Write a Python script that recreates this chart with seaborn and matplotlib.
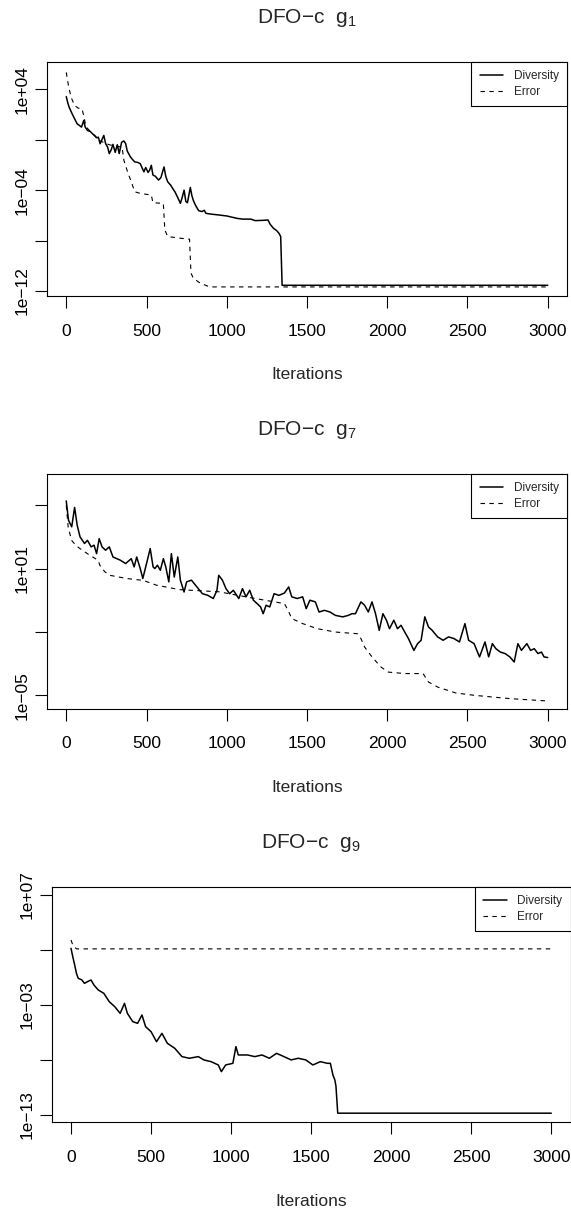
import numpy as np
import pandas as pd
import matplotlib
matplotlib.use("Agg")
import matplotlib.pyplot as plt
import seaborn as sns
from matplotlib.ticker import FixedLocator, FixedFormatter, NullLocator
from matplotlib.lines import Line2D

# ---------------- data (log10 of the plotted values) ----------------
x_ticks = [0, 500, 1000, 1500, 2000, 2500, 3000]
x_tick_labels = ["0", "500", "1000", "1500", "2000", "2500", "3000"]
series_names = ["Diversity", "Error"]

# g1
g1_div_it = [0, 10, 18, 35, 52, 68, 80, 95, 109, 118, 132, 150, 165, 177, 190, 200, 211, 222, 234, 245,
             258, 268, 280, 291, 305, 318, 330, 345, 359, 370, 380, 400, 415, 427, 445, 461, 475, 484, 495, 510,
             520, 530, 540, 555, 575, 590, 609, 620, 632, 650, 665, 677, 695, 711, 722, 734, 745, 755, 773, 782,
             791, 805, 825, 845, 860, 870, 900, 950, 1000, 1064, 1100, 1150, 1177, 1220, 1257, 1270, 1291, 1310, 1325, 1336,
             1345, 3000]
g1_div_log = [3.42, 2.9, 2.58, 2.1, 1.66, 1.26, 1.15, 1.0, 1.53, 1.0, 0.74, 0.65, 0.45, 0.34, 0.15, 0.2, -0.32, 0.0, 0.34, -0.3,
              -0.6, -1.1, -0.8, -0.37, -1.0, -0.4, -1.1, -0.2, -0.1, -0.3, -0.9, -1.37, -1.6, -1.76, -1.8, -1.9, -2.3, -2.55, -2.2, -2.6,
              -2.4, -2.03, -2.8, -2.9, -3.2, -3.0, -2.16, -2.9, -3.34, -3.6, -3.9, -4.13, -4.6, -5.05, -4.6, -4.0, -4.9, -5.0, -3.79, -4.4,
              -4.79, -5.2, -5.63, -5.7, -5.6, -5.84, -5.9, -5.97, -6.05, -6.24, -6.3, -6.3, -6.42, -6.4, -6.37, -6.7, -7.03, -7.2, -7.42, -7.68,
              -11.55, -11.55]
g1_err_it = [0, 15, 30, 52, 75, 98, 105, 109, 120, 132, 177, 211, 268, 330, 348, 359, 382, 405, 427, 461,
             530, 540, 605, 614, 632, 700, 768, 777, 791, 825, 859, 893, 3000]
g1_err_log = [5.34, 4.2, 3.37, 2.71, 2.5, 2.45, 2.1, 1.92, 1.2, 0.9, 0.3, -0.1, -0.4, -0.55, -0.6, -1.63, -2.55, -3.34, -4.13, -4.26,
              -4.39, -5.0, -5.05, -7.16, -7.68, -7.8, -7.89, -10.58, -10.97, -11.3, -11.5, -11.68, -11.68]
g1_yticks_log = [4, 0, -4, -8, -12]
g1_ytick_labels = ["1e+04", "", "1e\u221204", "", "1e\u221212"]
g1_ylim_log = (-12.4, 6.19)

# g7
g7_div_it = [0, 14, 34, 52, 68, 86, 114, 132, 155, 173, 189, 205, 223, 245, 268, 291, 336, 370, 405, 423,
             439, 461, 477, 495, 523, 541, 552, 568, 586, 605, 620, 639, 655, 673, 695, 711, 734, 750, 780, 814,
             848, 882, 916, 939, 950, 973, 995, 1018, 1041, 1075, 1098, 1120, 1143, 1166, 1189, 1211, 1227, 1245, 1268, 1295,
             1325, 1359, 1386, 1405, 1439, 1473, 1495, 1518, 1552, 1575, 1609, 1643, 1677, 1723, 1757, 1780, 1802, 1836, 1859, 1882,
             1905, 1927, 1950, 1973, 1995, 2014, 2041, 2064, 2086, 2109, 2132, 2166, 2189, 2211, 2234, 2257, 2280, 2314, 2348, 2382,
             2416, 2450, 2484, 2507, 2541, 2575, 2609, 2632, 2655, 2677, 2705, 2734, 2764, 2791, 2814, 2836, 2870, 2893, 2916, 2939,
             2961, 2977, 3000]
g7_div_log = [4.21, 3.29, 2.98, 3.90, 3.06, 2.50, 2.19, 2.34, 2.03, 2.11, 1.71, 2.42, 2.03, 1.87, 2.03, 1.55, 1.40, 1.24, 1.47, 1.08,
              1.55, 1.00, 0.53, 1.08, 1.95, 1.08, 1.00, 1.16, 0.92, 1.47, 1.08, 0.37, 1.71, 0.60, 1.55, 0.45, -0.11, 0.37, 0.45, 0.13,
              -0.19, -0.27, -0.42, -0.03, 0.68, 0.45, 0.05, -0.19, -0.03, -0.42, 0.05, -0.34, -0.03, -0.50, -0.66, -0.82, -1.14, -0.74, -0.82, -0.19,
              -0.27, -0.16, 0.13, -0.34, -0.42, -0.34, -0.90, -0.50, -0.58, -1.06, -0.98, -1.06, -1.22, -1.29, -1.22, -1.14, -1.14, -0.58, -0.74, -1.06,
              -0.58, -1.14, -1.93, -1.14, -1.45, -1.85, -1.45, -1.85, -1.69, -2.01, -2.32, -2.88, -2.56, -2.40, -1.29, -1.77, -1.93, -2.24, -2.40, -2.24,
              -2.32, -2.48, -1.61, -2.40, -2.56, -3.19, -2.48, -3.19, -2.56, -2.80, -2.96, -3.03, -3.19, -3.43, -2.56, -2.88, -2.56, -2.88, -2.80, -3.03,
              -2.96, -3.19, -3.22]
g7_err_it = [0, 12, 33, 60, 85, 147, 199, 209, 240, 272, 376, 479, 563, 708, 950, 1177, 1359, 1382, 1405, 1473,
             1564, 1677, 1814, 1836, 1859, 1905, 1961, 2007, 2109, 2223, 2257, 2314, 2427, 2541, 2768, 3000]
g7_err_log = [4.0, 2.97, 2.34, 2.1, 1.95, 1.63, 1.39, 1.16, 0.85, 0.68, 0.53, 0.44, 0.21, 0.0, -0.1, -0.42, -0.66, -0.98, -1.37, -1.61,
              -1.85, -2.01, -2.09, -2.32, -2.72, -3.19, -3.67, -3.91, -3.98, -3.98, -4.38, -4.62, -4.90, -5.01, -5.17, -5.28]
g7_yticks_log = [4, 1, -2, -5]
g7_ytick_labels = ["", "1e+01", "", "1e\u221205"]
g7_ylim_log = (-5.66, 5.5)

# g9
g9_div_it = [0, 11, 23, 34, 45, 68, 84, 102, 125, 143, 170, 205, 239, 273, 307, 334, 352, 386, 416, 443,
             466, 500, 534, 568, 602, 648, 693, 739, 795, 830, 875, 920, 939, 966, 1011, 1030, 1045, 1102, 1148, 1193,
             1239, 1284, 1330, 1375, 1420, 1466, 1511, 1557, 1602, 1620, 1636, 1648, 1655, 1666, 3000]
g9_div_log = [2.15, 1.39, 0.63, -0.13, -0.58, -0.73, -1.04, -0.89, -0.73, -1.19, -1.64, -1.95, -2.71, -3.16, -3.77, -2.86, -3.77, -4.53, -4.68, -3.92,
              -4.98, -5.44, -6.35, -5.59, -6.50, -6.95, -7.71, -7.86, -7.71, -8.01, -8.17, -8.47, -9.08, -8.47, -8.32, -6.80, -7.56, -7.56, -7.71, -7.56,
              -7.86, -7.41, -7.71, -8.01, -7.86, -8.01, -8.47, -8.17, -8.32, -8.32, -9.38, -9.83, -10.4, -12.86, -12.86]
g9_err_it = [0, 11, 34, 3000]
g9_err_log = [2.91, 2.45, 2.1, 2.1]
g9_yticks_log = [7, 2, -3, -8, -13]
g9_ytick_labels = ["1e+07", "", "1e\u221203", "", "1e\u221213"]
g9_ylim_log = (-13.69, 7.76)

titles = ["DFO\u2212c  $\\mathregular{g_1}$", "DFO\u2212c  $\\mathregular{g_7}$", "DFO\u2212c  $\\mathregular{g_9}$"]
x_label = "Iterations"

# ---------------- style ----------------
sns.set_theme(style="white")
plt.rcParams["font.family"] = ["Liberation Sans", "DejaVu Sans"]
plt.rcParams["axes.edgecolor"] = "black"
plt.rcParams["axes.linewidth"] = 0.8

W, H = 571, 1212
fig = plt.figure(figsize=(W / 100, H / 100), dpi=100)

# axes boxes in pixels: left, top, right, bottom
boxes = [(47, 61.7, 567, 296), (47, 473.7, 567, 709), (51.8, 886.7, 570.5, 1122.3)]

panels = [
    (g1_div_it, g1_div_log, g1_err_it, g1_err_log, g1_yticks_log, g1_ytick_labels, g1_ylim_log),
    (g7_div_it, g7_div_log, g7_err_it, g7_err_log, g7_yticks_log, g7_ytick_labels, g7_ylim_log),
    (g9_div_it, g9_div_log, g9_err_it, g9_err_log, g9_yticks_log, g9_ytick_labels, g9_ylim_log),
]

px = 72 / 100.0  # points per pixel
dash = (0, (4, 4))

for (l, t, r, b), title, (di, dl, ei, el, ytl, ylab, ylim) in zip(boxes, titles, panels):
    ax = fig.add_axes([l / W, 1 - b / H, (r - l) / W, (b - t) / H])
    ax.set_yscale("log")
    df_div = pd.DataFrame({"it": di, "val": 10.0 ** np.array(dl)})
    df_err = pd.DataFrame({"it": ei, "val": 10.0 ** np.array(el)})
    sns.lineplot(data=df_div, x="it", y="val", ax=ax, color="black", lw=1.1,
                 estimator=None, sort=False)
    sns.lineplot(data=df_err, x="it", y="val", ax=ax, color="black", lw=0.8,
                 linestyle=dash, estimator=None, sort=False)
    ax.set_xlim(-120, 3120)
    ax.set_ylim(10.0 ** ylim[0], 10.0 ** ylim[1])
    ax.xaxis.set_major_locator(FixedLocator(x_ticks))
    ax.xaxis.set_major_formatter(FixedFormatter(x_tick_labels))
    ax.yaxis.set_major_locator(FixedLocator([10.0 ** v for v in ytl]))
    ax.yaxis.set_major_formatter(FixedFormatter(ylab))
    ax.yaxis.set_minor_locator(NullLocator())
    ax.xaxis.set_minor_locator(NullLocator())
    ax.set_xlabel("")
    ax.set_ylabel("")
    ax.tick_params(axis="both", direction="out", length=8.3, width=0.8, color="black",
                   labelsize=12.5, labelcolor="black", bottom=True, left=True)
    ax.tick_params(axis="x", pad=11.5)
    ax.tick_params(axis="y", pad=4, labelrotation=90)
    for lab in ax.get_yticklabels():
        lab.set_va("center")
    for s in ax.spines.values():
        s.set_visible(True)
        s.set_color("black")
        s.set_linewidth(0.8)
    ax.annotate(title, xy=(0.5, 1), xycoords="axes fraction", xytext=(0, 38.5 * px),
                textcoords="offset points", ha="center", va="baseline", fontsize=15)
    ax.annotate(x_label, xy=(0.5, 0), xycoords="axes fraction", xytext=(0, -83.3 * px),
                textcoords="offset points", ha="center", va="baseline", fontsize=12.5)
    handles = [Line2D([], [], color="black", lw=1.1),
               Line2D([], [], color="black", lw=0.8, linestyle=dash)]
    leg = ax.legend(handles, series_names, loc="upper right", bbox_to_anchor=(1, 1),
                    borderaxespad=0, fontsize=8.5, handlelength=2.0, handletextpad=0.9,
                    borderpad=0.7, labelspacing=0.35, fancybox=False, framealpha=1,
                    edgecolor="black")
    leg.get_frame().set_linewidth(0.8)

fig.savefig("out.png", dpi=100)
